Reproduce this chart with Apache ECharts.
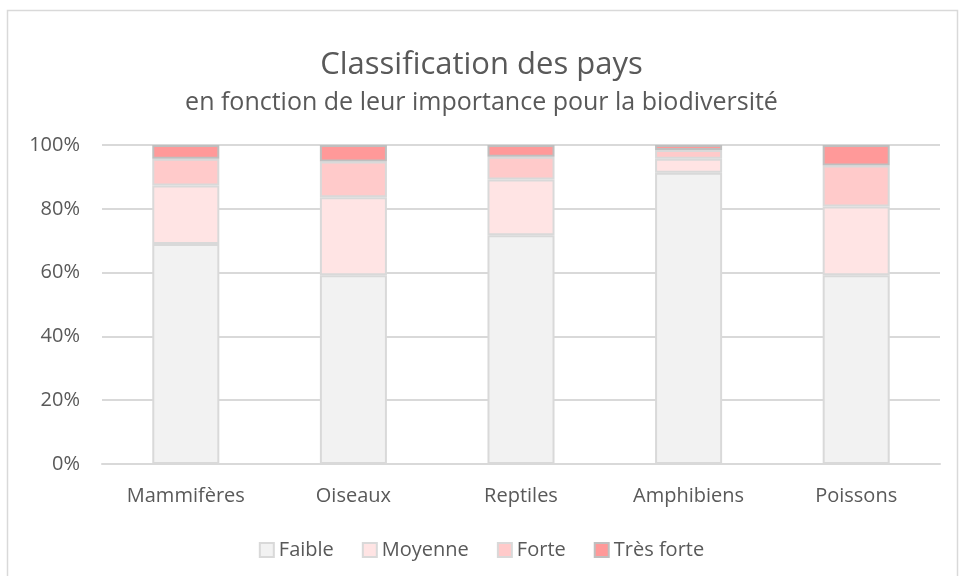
<!DOCTYPE html>
<html>
<head>
<meta charset="utf-8">
<script src="https://cdn.jsdelivr.net/npm/echarts@6/dist/echarts.min.js"></script>
<style>
  html, body { margin: 0; padding: 0; background: #fff; }
  #chart { width: 963px; height: 576px; }
</style>
</head>
<body>
<div id="chart"></div>
<script>
var categories = ['Mammifères', 'Oiseaux', 'Reptiles', 'Amphibiens', 'Poissons'];
var faible = [69.0, 59.2, 71.7, 91.3, 59.2];
var moyenne = [18.3, 24.4, 17.5, 4.4, 21.5];
var forte = [8.4, 11.2, 7.1, 2.7, 12.9];
var tresForte = [4.3, 5.2, 3.7, 1.6, 6.4];
var yTicks = [0, 20, 40, 60, 80, 100];

(function () {
  var ink = '#595959';
  var rule = '#d9d9d9';
  var font = '"Open Sans", "Noto Sans", sans-serif';

  var chart = echarts.init(document.getElementById('chart'), null, { renderer: 'canvas' });

  function bar(name, data, color, border) {
    return {
      name: name,
      type: 'bar',
      stack: 'total',
      barWidth: '40%',
      data: data,
      itemStyle: { color: color, borderColor: border, borderWidth: 2 }
    };
  }

  chart.setOption({
    animation: false,
    textStyle: { fontFamily: font },
    graphic: [{
      type: 'rect',
      shape: { x: 7.5, y: 10.5, width: 950, height: 570 },
      style: { fill: 'none', stroke: rule, lineWidth: 1.5 },
      silent: true
    }],
    title: [
      {
        text: 'Classification des pays',
        left: 'center',
        top: 45,
        textStyle: { color: ink, fontSize: 31, fontWeight: 'normal', fontFamily: font }
      },
      {
        text: 'en fonction de leur importance pour la biodiversité',
        left: 'center',
        top: 85,
        textStyle: { color: ink, fontSize: 25, fontWeight: 'normal', fontFamily: font }
      }
    ],
    legend: {
      top: 535,
      left: 'center',
      icon: 'rect',
      itemWidth: 14,
      itemHeight: 14,
      itemGap: 28,
      textStyle: { color: ink, fontSize: 20, fontFamily: font },
      data: ['Faible', 'Moyenne', 'Forte', 'Très forte']
    },
    grid: { left: 102, right: 23, top: 145, bottom: 112, containLabel: false },
    xAxis: {
      type: 'category',
      data: categories,
      axisLine: { lineStyle: { color: rule, width: 2 } },
      axisTick: { show: false },
      axisLabel: { color: ink, fontSize: 20, margin: 22, fontFamily: font }
    },
    yAxis: {
      type: 'value',
      min: yTicks[0],
      max: yTicks[yTicks.length - 1],
      interval: yTicks[1] - yTicks[0],
      axisLine: { show: false },
      axisTick: { show: false },
      axisLabel: { color: ink, fontSize: 20, margin: 22, fontFamily: font, formatter: '{value}%' },
      splitLine: { lineStyle: { color: rule, width: 2 } }
    },
    series: [
      bar('Faible', faible, '#f2f2f2', '#d9d9d9'),
      bar('Moyenne', moyenne, '#ffe4e4', '#d9d9d9'),
      bar('Forte', forte, '#ffcaca', '#d9d9d9'),
      bar('Très forte', tresForte, '#ff9999', '#bfbfbf')
    ]
  });
})();
</script>
</body>
</html>
